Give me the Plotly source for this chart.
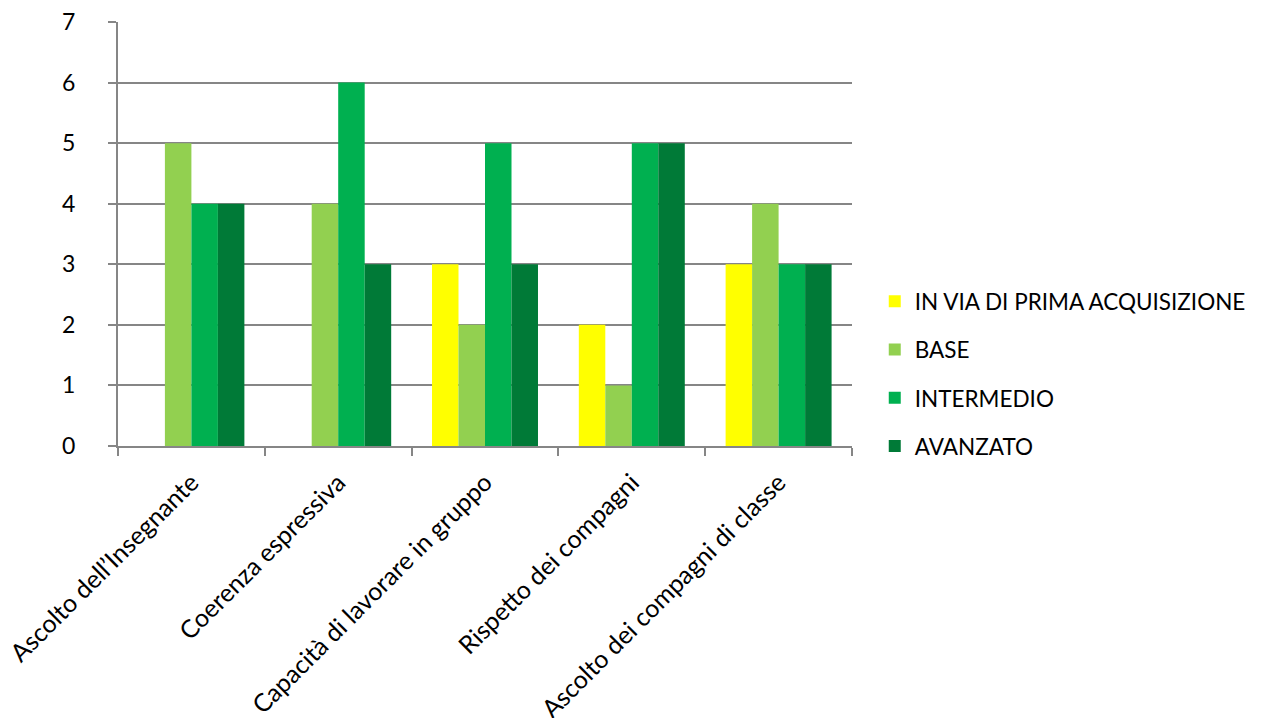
import plotly.graph_objects as go

categories = ["Ascolto dell’Insegnante", "Coerenza espressiva", "Capacità di lavorare in gruppo",
              "Rispetto dei compagni", "Ascolto dei compagni di classe"]
series_names = ["IN VIA DI PRIMA ACQUISIZIONE", "BASE", "INTERMEDIO", "AVANZATO"]
in_via = [0, 0, 3, 2, 3]
base = [5, 4, 2, 1, 4]
intermedio = [4, 6, 5, 5, 3]
avanzato = [4, 3, 3, 5, 3]
colors = ["#FFFF00", "#92D050", "#00B050", "#007A37"]

fig = go.Figure()
for name, vals, col in zip(series_names, [in_via, base, intermedio, avanzato], colors):
    fig.add_trace(go.Bar(x=categories, y=vals, name=name, marker_color=col,
                         marker_line_width=0, legendgroup=name))

fig.update_layout(
    width=1263, height=718,
    margin=dict(l=118, r=411, t=22, b=272, autoexpand=False),
    paper_bgcolor="white", plot_bgcolor="white",
    barmode="group", bargap=0.278, bargroupgap=0,
    font=dict(family="Lato, Calibri, sans-serif", size=22, color="black"),
    legend=dict(x=1.031, y=-0.05, xanchor="left", yanchor="bottom",
                font=dict(size=22.5), tracegroupgap=16, traceorder="grouped"),
    showlegend=True,
)
fig.update_xaxes(showline=True, linecolor="#868686", linewidth=2,
                 ticks="outside", tickson="boundaries", ticklen=8, tickcolor="#868686", tickwidth=2,
                 tickangle=-45, showgrid=False, tickfont=dict(size=25), ticklabelstandoff=10,
                 automargin=False)
fig.update_yaxes(range=[0, 7], dtick=1, showline=True, linecolor="#868686", linewidth=2,
                 ticks="outside", ticklen=8, tickcolor="#868686", tickwidth=2,
                 showgrid=True, gridcolor="#868686", gridwidth=2, zeroline=False,
                 tickfont=dict(size=23), ticklabelstandoff=28, automargin=False)

fig.write_html("out.html")
